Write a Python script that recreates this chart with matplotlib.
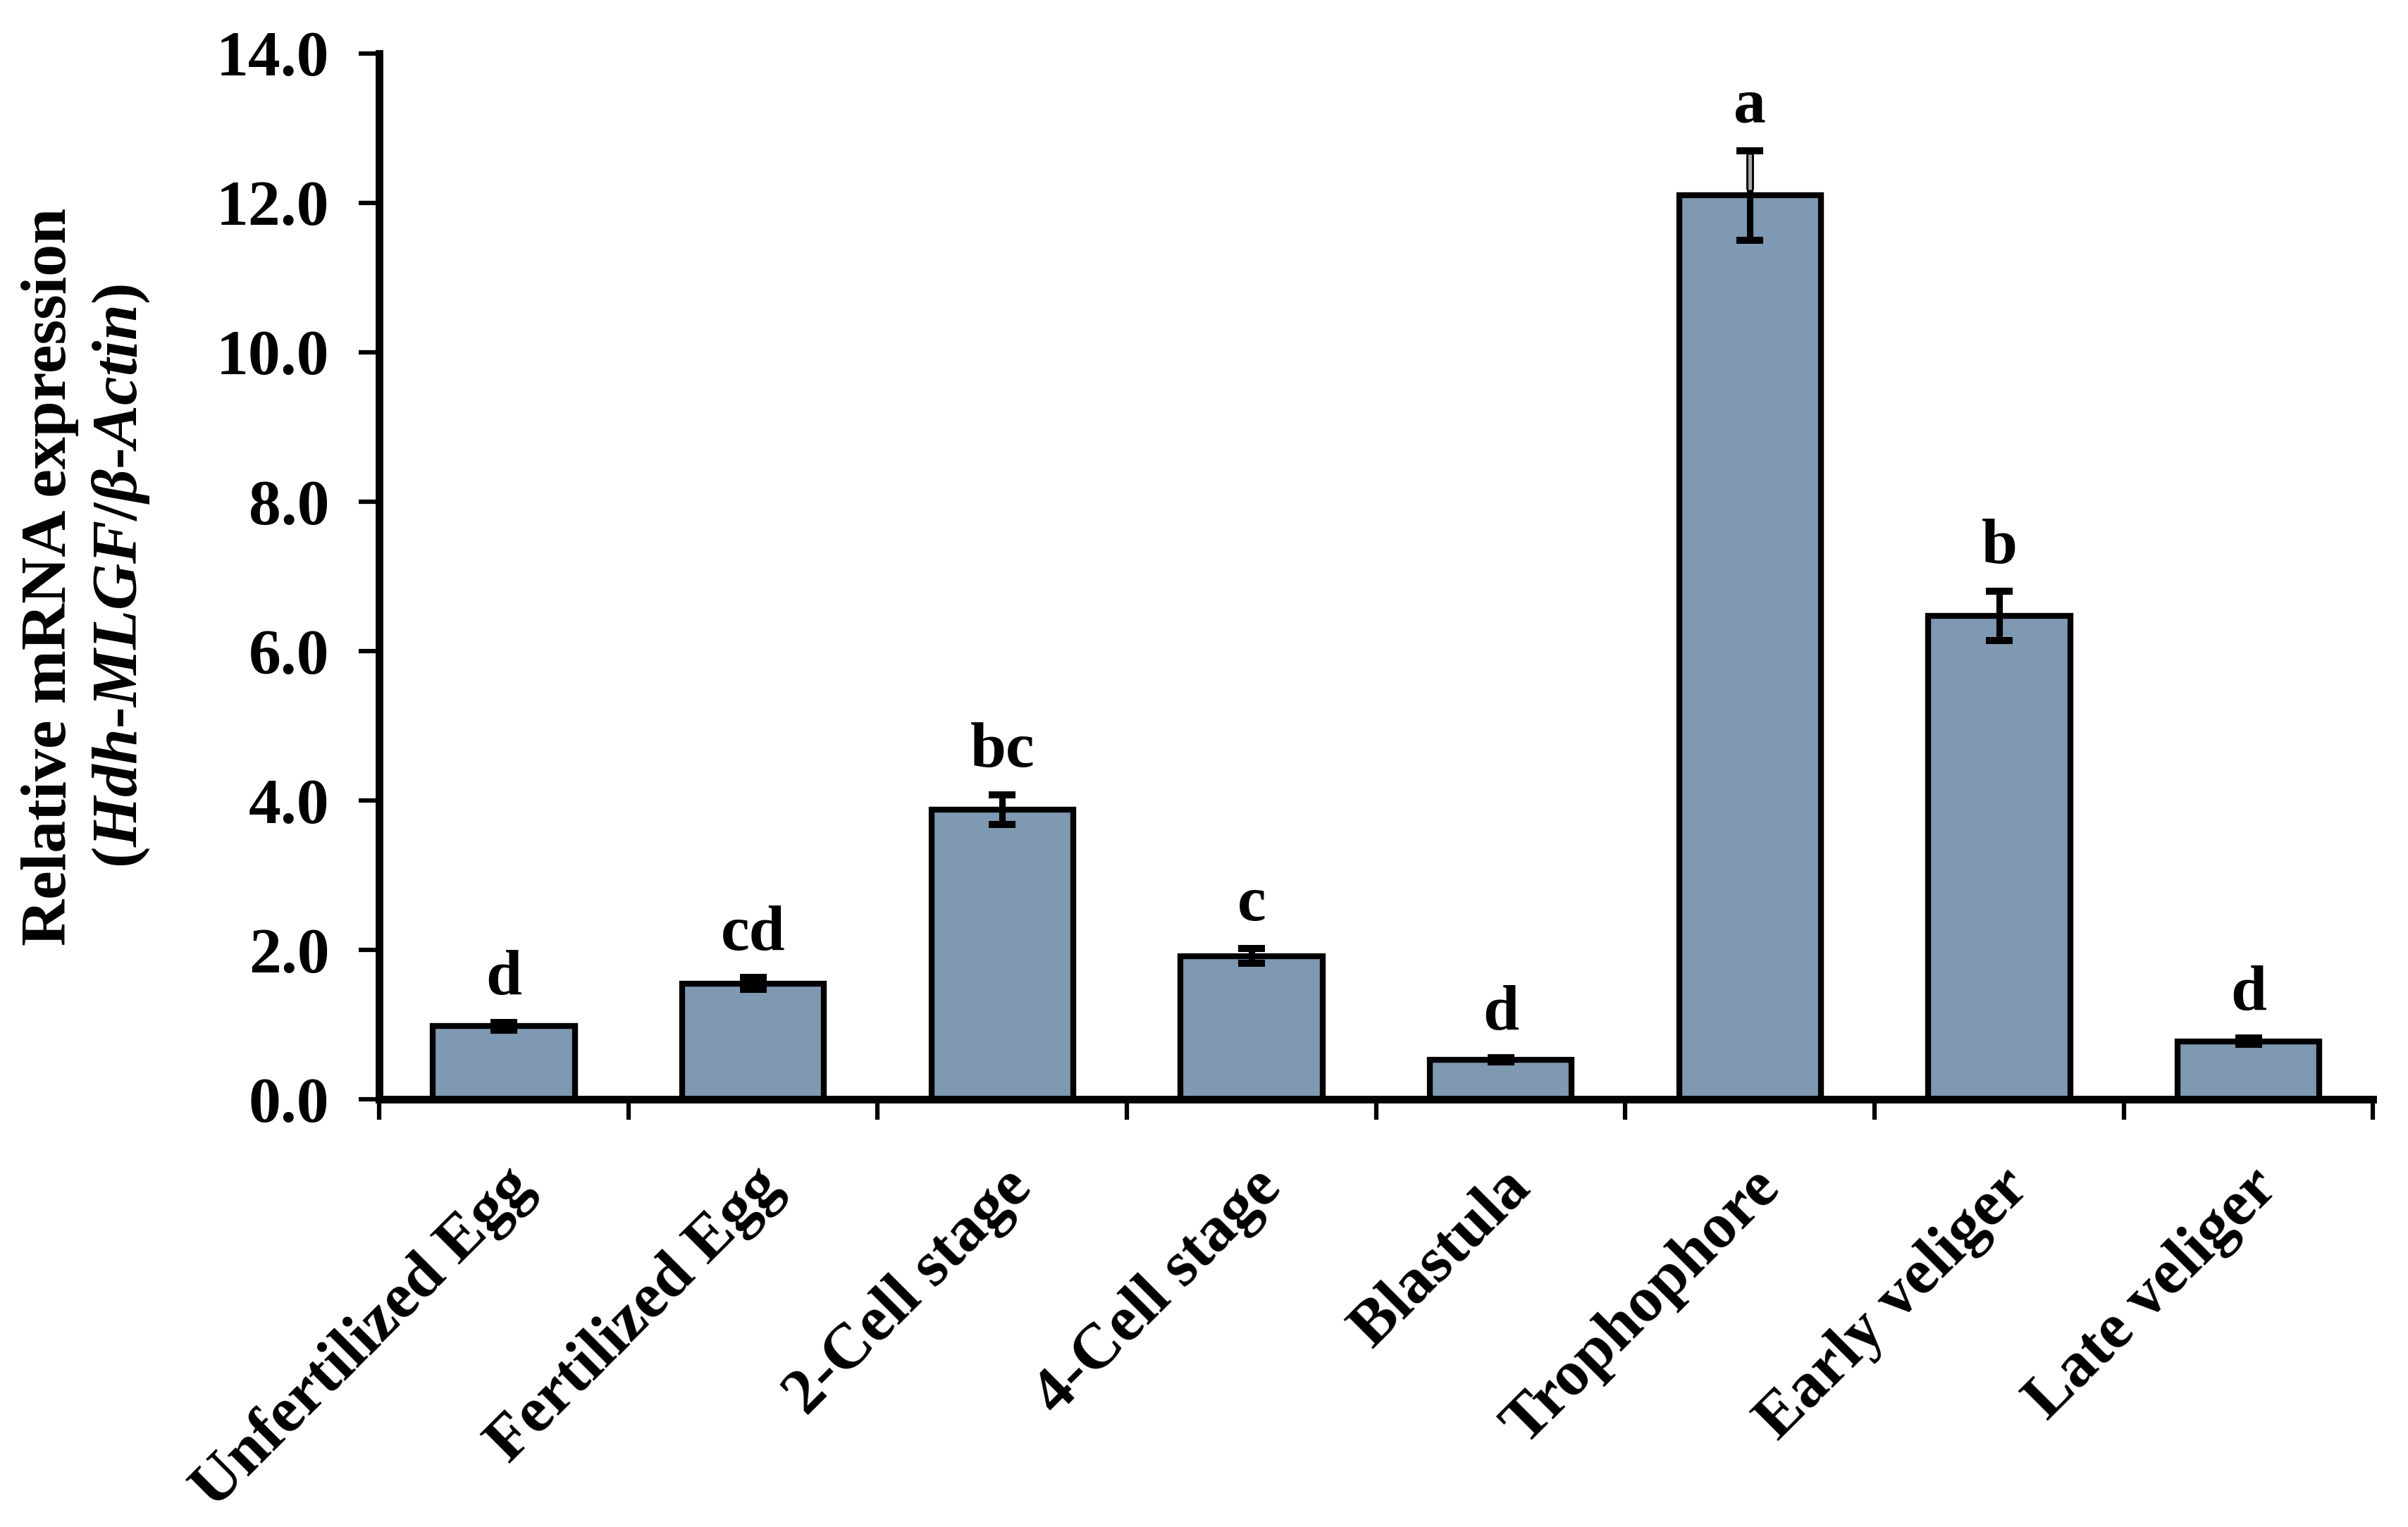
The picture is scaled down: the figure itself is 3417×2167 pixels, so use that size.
import numpy as np
import matplotlib.pyplot as plt
import matplotlib.patheffects as pe
from matplotlib.ticker import FormatStrFormatter

plt.rcParams['font.family'] = 'Liberation Serif'
plt.rcParams['font.weight'] = 'bold'
plt.rcParams['mathtext.fontset'] = 'custom'
plt.rcParams['mathtext.it'] = 'Liberation Serif:bold:italic'
plt.rcParams['mathtext.rm'] = 'Liberation Serif:bold'

stages = ["Unfertilized Egg", "Fertilized Egg", "2-Cell stage", "4-Cell stage",
          "Blastula", "Trophophore", "Early veliger", "Late veliger"]
expr = [0.98, 1.55, 3.88, 1.92, 0.53, 12.1, 6.47, 0.78]
err = [0.05, 0.08, 0.20, 0.10, 0.03, 0.60, 0.33, 0.04]
letters = ["d", "cd", "bc", "c", "d", "a", "b", "d"]

fs = 22

fig = plt.figure(figsize=(3417 / 300, 2167 / 300), dpi=300)
ax = fig.add_axes([0.1575, 0.280, 0.828, 0.685])

x = np.arange(len(stages)) + 0.5
ax.bar(x, expr, width=0.57, color='#7f99b3', edgecolor='black', linewidth=2.0, zorder=2)
ax.errorbar(x, expr, yerr=err, fmt='none', ecolor='black', elinewidth=2.2,
            capsize=4.5, capthick=2.4, zorder=3)

# the tallest bar's upper whisker is drawn grey with a black outline in the original
i = int(np.argmax(expr))
ax.vlines(x[i], expr[i] + 0.08, expr[i] + err[i] - 0.05, colors='#a6a6a6', linewidth=1.2,
          zorder=4, path_effects=[pe.Stroke(linewidth=2.6, foreground='black'), pe.Normal()])

for xi, yi, ei, lab in zip(x, expr, err, letters):
    ax.annotate(lab, (xi, yi + ei), xytext=(0, 5), textcoords='offset points',
                ha='center', va='bottom', fontsize=fs, fontweight='bold')

ax.set_xlim(0, 8)
ax.set_ylim(0, 14)
ax.set_yticks(np.arange(0, 14.1, 2))
ax.yaxis.set_major_formatter(FormatStrFormatter('%.1f'))
ax.set_xticks(np.arange(0, 9))
ax.set_xticklabels([])
ax.set_xticks(x, minor=True)
ax.set_xticklabels(stages, minor=True, rotation=45, ha='right', va='top',
                   rotation_mode='anchor', fontsize=fs, fontweight='bold')
ax.tick_params(axis='x', which='minor', length=0, pad=20)
ax.tick_params(axis='x', which='major', direction='out', length=7, width=1.5)
ax.tick_params(axis='y', direction='out', length=7, width=1.5, labelsize=fs, pad=10)

ax.spines['top'].set_visible(False)
ax.spines['right'].set_visible(False)
ax.spines['left'].set_linewidth(2.6)
ax.spines['bottom'].set_linewidth(2.6)

ax.set_ylabel("Relative mRNA expression\n($\\mathit{Hdh}$-$\\mathit{MLGF}$/$\\mathit{\u03b2}$-$\\mathit{Actin}$)",
              fontsize=fs, fontweight='bold', labelpad=22, linespacing=1.25)

plt.savefig("out.png", dpi=300)
